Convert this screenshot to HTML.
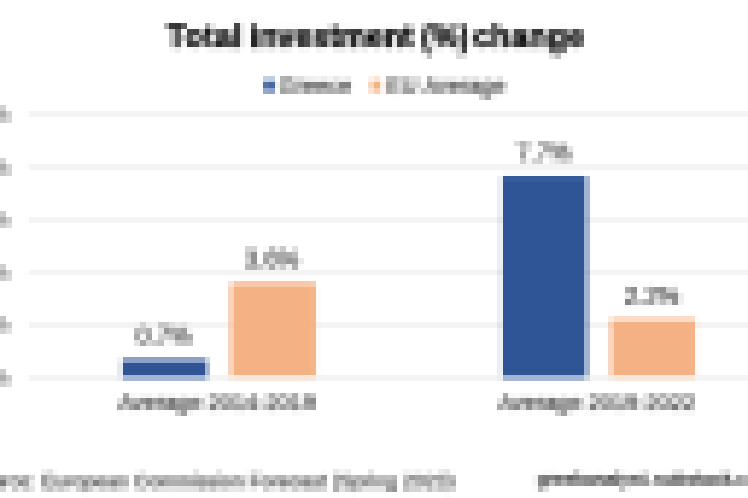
<!DOCTYPE html>
<html>
<head>
<meta charset="utf-8">
<style>
html,body{margin:0;padding:0;background:#fff;}
body{width:748px;height:498px;position:relative;overflow:hidden;font-family:"Liberation Sans",sans-serif;}
.t{position:absolute;white-space:nowrap;line-height:1;will-change:transform;}
.title{top:21px;font-size:31px;font-weight:700;color:#000;-webkit-text-stroke:0.8px #000;}
.leg{color:#3a3a3a;-webkit-text-stroke:0.6px #3a3a3a;font-size:22px;top:74.5px;}
.sq{position:absolute;width:10px;height:11.5px;top:80px;}
.grid{position:absolute;left:28px;width:720px;height:1.75px;background:#d9d9d9;}
.bar{position:absolute;}
.b{background:#2f5597;}
.o{background:#f4b183;}
.lab{color:#3a3a3a;-webkit-text-stroke:0.6px #3a3a3a;font-size:24px;text-align:center;width:120px;}
.cat{color:#3a3a3a;-webkit-text-stroke:0.6px #3a3a3a;font-size:22.5px;text-align:center;width:300px;top:390.5px;}
.ylab{color:#595959;-webkit-text-stroke:0.3px #595959;font-size:22px;text-align:right;width:80px;left:-71px;}
.foot{color:#3a3a3a;-webkit-text-stroke:0.6px #3a3a3a;font-size:20px;top:471px;}
</style>
</head>
<body>
<div class="t title" style="left:167px;letter-spacing:0.75px">Total</div>
<div class="t title" style="left:250px">investment</div>
<div class="t title" style="left:421px">(%)</div>
<div class="t title" style="left:473.5px;letter-spacing:0.5px">change</div>

<div class="sq b" style="left:264px"></div>
<div class="t leg" style="left:279px">Greece</div>
<div class="sq o" style="left:371px"></div>
<div class="t leg" style="left:387px">EU Average</div>

<div class="grid" style="top:113px"></div>
<div class="grid" style="top:165.5px"></div>
<div class="grid" style="top:218px"></div>
<div class="grid" style="top:270.5px"></div>
<div class="grid" style="top:323px"></div>
<div class="grid" style="top:375.5px"></div>

<div class="t ylab" style="top:366.5px">0%</div>
<div class="t ylab" style="top:313.5px">2%</div>
<div class="t ylab" style="top:261.5px">4%</div>
<div class="t ylab" style="top:208.5px">6%</div>
<div class="t ylab" style="top:156.5px">8%</div>
<div class="t ylab" style="top:103.5px">10%</div>

<div class="bar b" style="left:122px;width:85px;top:360px;height:17.5px"></div>
<div class="bar o" style="left:230.5px;width:85px;top:283px;height:93.5px"></div>
<div class="bar b" style="left:502px;width:85px;top:175.8px;height:201.7px"></div>
<div class="bar o" style="left:610.5px;width:85px;top:319.5px;height:57px"></div>

<div class="t lab" style="left:104px;top:324px">0.7%</div>
<div class="t lab" style="left:212px;top:247px">3.6%</div>
<div class="t lab" style="left:483.5px;top:140.5px">7.7%</div>
<div class="t lab" style="left:592px;top:283.5px">2.2%</div>

<div class="t cat" style="left:67px">Average 2014-2019</div>
<div class="t cat" style="left:447px">Average 2019-2022</div>

<div class="t foot" style="left:-33px">Source: European Commission Forecast (Spring 2023)</div>
<div class="t foot" style="left:536.5px;top:469.8px;font-size:18px;font-weight:700">greekanalyst.<span style="margin-left:3px">substack.com</span></div>
<canvas id="cv" width="748" height="498" style="position:absolute;left:0;top:0;width:748px;height:498px;z-index:50;visibility:hidden"></canvas>
<script>
(function(){
try{
var W=748,H=498,GW=128,GH=85;
var big=document.createElement('canvas');big.width=W;big.height=H;
var g=big.getContext('2d');
g.fillStyle='#fff';g.fillRect(0,0,W,H);
var els=document.body.querySelectorAll('.grid,.bar,.sq');
for(var i=0;i<els.length;i++){var r=els[i].getBoundingClientRect();g.fillStyle=getComputedStyle(els[i]).backgroundColor;g.fillRect(r.left,r.top,r.width,r.height);}
var ts=document.body.querySelectorAll('.t');
for(var i=0;i<ts.length;i++){
 var e=ts[i],ecs=getComputedStyle(e),er=e.getBoundingClientRect(),efs=parseFloat(ecs.fontSize);
 var y=er.top+0.8465*efs;
 var tw=document.createTreeWalker(e,NodeFilter.SHOW_TEXT,null,false),nd;
 while((nd=tw.nextNode())){
  var cs=getComputedStyle(nd.parentNode),fs=parseFloat(cs.fontSize);
  var rg=document.createRange();rg.selectNodeContents(nd);var rr=rg.getBoundingClientRect();
  g.font=cs.fontWeight+' '+fs+'px "Liberation Sans"';
  g.textBaseline='alphabetic';g.textAlign='left';
  try{g.letterSpacing=(cs.letterSpacing&&cs.letterSpacing!='normal')?cs.letterSpacing:'0px';}catch(x){}
  var x=rr.left;
  g.fillStyle=cs.color;g.fillText(nd.textContent,x,y);
  var sw=parseFloat(cs.webkitTextStrokeWidth||0);
  if(sw>0){g.lineWidth=sw;g.strokeStyle=cs.webkitTextStrokeColor||cs.color;g.strokeText(nd.textContent,x,y);}
 }
}
var src=g.getImageData(0,0,W,H).data;
var sx=W/GW,sy=H/GH,small=new Float32Array(GW*GH*3);
for(var by=0;by<GH;by++){
 var y0=by*sy,y1=(by+1)*sy;
 for(var bx=0;bx<GW;bx++){
  var x0=bx*sx,x1=(bx+1)*sx,acc0=0,acc1=0,acc2=0,wt=0;
  for(var py=Math.floor(y0);py<Math.ceil(y1)&&py<H;py++){
   var wy=Math.min(py+1,y1)-Math.max(py,y0);if(wy<=0)continue;
   for(var px=Math.floor(x0);px<Math.ceil(x1)&&px<W;px++){
    var wx=Math.min(px+1,x1)-Math.max(px,x0);if(wx<=0)continue;
    var w=wx*wy,k=(py*W+px)*4;acc0+=src[k]*w;acc1+=src[k+1]*w;acc2+=src[k+2]*w;wt+=w;
   }
  }
  var o=(by*GW+bx)*3;small[o]=acc0/wt;small[o+1]=acc1/wt;small[o+2]=acc2/wt;
 }
}
var cv=document.getElementById('cv'),c=cv.getContext('2d');
var out=c.createImageData(W,H),d=out.data;
for(var py=0;py<H;py++){var by=Math.min(GH-1,Math.floor((py+0.5)/sy));
 for(var px=0;px<W;px++){var bx=Math.min(GW-1,Math.floor((px+0.5)/sx));
  var o=(by*GW+bx)*3,k=(py*W+px)*4;d[k]=small[o];d[k+1]=small[o+1];d[k+2]=small[o+2];d[k+3]=255;}}
c.putImageData(out,0,0);
cv.style.visibility='visible';
}catch(err){}
})();
</script>
</body>
</html>
